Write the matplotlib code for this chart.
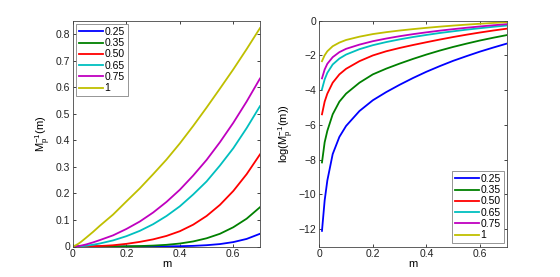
import numpy as np
import matplotlib
matplotlib.use("Agg")
import matplotlib.pyplot as plt

plt.rcParams['font.family'] = ['Liberation Sans', 'DejaVu Sans']
plt.rcParams['mathtext.fontset'] = 'custom'
plt.rcParams['mathtext.rm'] = 'Liberation Sans'
plt.rcParams['mathtext.it'] = 'Liberation Sans'

# sample points of m
m = [0.01, 0.02, 0.03, 0.05, 0.075, 0.1, 0.15, 0.2, 0.25, 0.3, 0.35,
     0.4, 0.45, 0.5, 0.55, 0.6, 0.65, 0.7]

labels = ['0.25', '0.35', '0.50', '0.65', '0.75', '1']

# log10(M_p^{-1}(m))
log_p025 = [-12.1, -10.35, -9.2, -7.68, -6.69, -6.06, -5.2, -4.58, -4.11, -3.69, -3.30,
            -2.94, -2.615, -2.31, -2.04, -1.78, -1.545, -1.32]
log_p035 = [-8.16, -7.0, -6.34, -5.39, -4.66, -4.2, -3.57, -3.09, -2.76, -2.47, -2.2,
            -1.95, -1.72, -1.51, -1.32, -1.14, -0.98, -0.83]
log_p050 = [-5.39, -4.66, -4.2, -3.57, -3.09, -2.77, -2.33, -2.0, -1.76, -1.57, -1.40,
            -1.24, -1.085, -0.94, -0.805, -0.68, -0.565, -0.46]
log_p065 = [-3.95, -3.38, -3.0, -2.52, -2.18, -1.95, -1.64, -1.41, -1.23, -1.076, -0.94,
            -0.82, -0.708, -0.611, -0.516, -0.432, -0.351, -0.277]
log_p075 = [-3.32, -2.81, -2.48, -2.10, -1.81, -1.62, -1.377, -1.18, -1.027, -0.893, -0.775,
            -0.67, -0.573, -0.487, -0.406, -0.332, -0.263, -0.199]
log_p100 = [-2.33, -1.99, -1.76, -1.47, -1.26, -1.11, -0.92, -0.77, -0.66, -0.565, -0.485,
            -0.411, -0.343, -0.2815, -0.226, -0.176, -0.129, -0.085]

series = [log_p025, log_p035, log_p050, log_p065, log_p075, log_p100]
colors = [(0, 0, 1), (0, 0.5, 0), (1, 0, 0), (0, 0.75, 0.75), (0.75, 0, 0.75), (0.75, 0.75, 0)]

fig = plt.figure(figsize=(5.6, 2.77), dpi=100)
W, H = 560.0, 277.0
ax1 = fig.add_axes([73 / W, (H - 246.5) / H, 187 / W, (246.5 - 20.7) / H])
ax2 = fig.add_axes([319.3 / W, (H - 246.5) / H, 187.4 / W, (246.5 - 20.7) / H])

fs = 7.5
mm = np.array(m)
for vals, c, lab in zip(series, colors, labels):
    v = np.array(vals)
    ax1.plot(np.r_[0.0, mm], np.r_[0.0, 10 ** v], color=c, lw=1.3, label=lab)
    ax2.plot(mm, v, color=c, lw=1.3, label=lab)

ax1.set_xlim(0, 0.7)
ax1.set_ylim(0, 0.85)
ax1.set_xticks([0, 0.2, 0.4, 0.6])
ax1.set_xticklabels(['0', '0.2', '0.4', '0.6'])
ax1.set_yticks(np.arange(0, 0.81, 0.1))
ax1.set_yticklabels(['0', '0.1', '0.2', '0.3', '0.4', '0.5', '0.6', '0.7', '0.8'])
ax1.set_xlabel('m', fontsize=fs + 0.5, labelpad=0)
ax1.set_ylabel(r'M$_\mathregular{p}^\mathregular{-1}$(m)', fontsize=fs + 0.5, labelpad=2)

ax2.set_xlim(0, 0.7)
ax2.set_ylim(-13, 0)
ax2.set_xticks([0, 0.2, 0.4, 0.6])
ax2.set_xticklabels(['0', '0.2', '0.4', '0.6'])
ax2.set_yticks([0, -2, -4, -6, -8, -10, -12])
ax2.set_yticklabels(['0', '\u22122', '\u22124', '\u22126', '\u22128', '\u221210', '\u221212'])
ax2.set_xlabel('m', fontsize=fs + 0.5, labelpad=0)
ax2.set_ylabel(r'log(M$_\mathregular{p}^\mathregular{-1}$(m))', fontsize=fs + 0.5, labelpad=2)

for ax in (ax1, ax2):
    ax.tick_params(direction='in', length=2.5, width=0.6, labelsize=fs, top=True, right=True,
                   colors='#222222', pad=2)
    for s in ax.spines.values():
        s.set_linewidth(0.6)
        s.set_color('#444444')

leg_kw = dict(fontsize=fs, frameon=True, fancybox=False, edgecolor='#666666',
              handlelength=2.3, handletextpad=0.1, labelspacing=0.12, borderpad=0.3,
              borderaxespad=0.3)
l1 = ax1.legend(loc='upper left', **leg_kw)
l2 = ax2.legend(loc='lower right', **leg_kw)
for l in (l1, l2):
    l.get_frame().set_linewidth(0.6)

fig.savefig('out.png', dpi=100)
